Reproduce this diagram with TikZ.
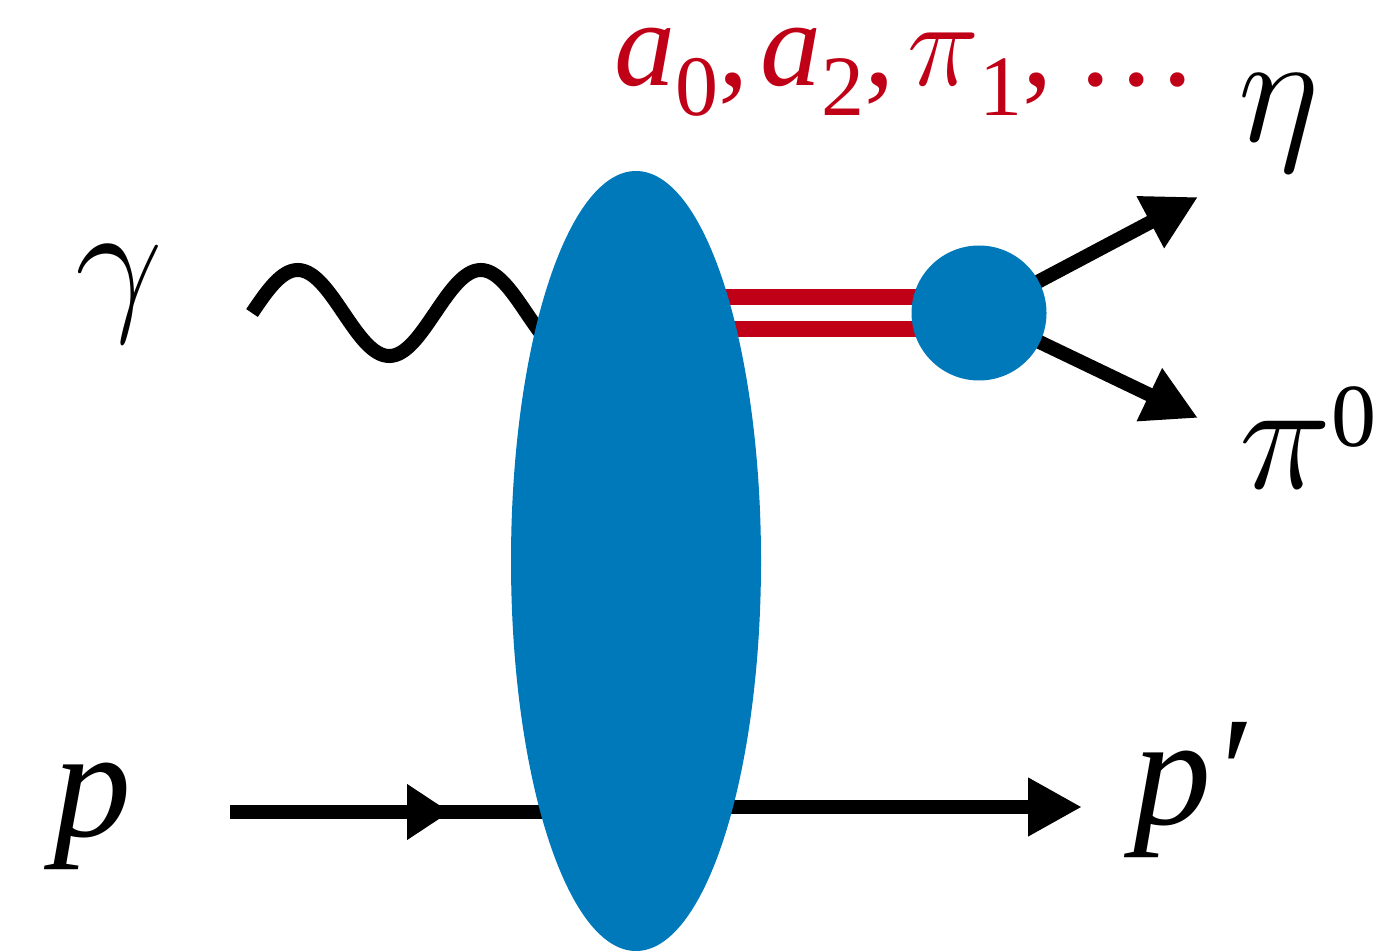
\RequirePackage{fix-cm}
\documentclass[tikz,border=0pt]{standalone}
\usepackage{fontspec}
\setmainfont{Liberation Serif}
\usepackage{xcolor}
\usetikzlibrary{shapes.geometric, positioning, arrows.meta, backgrounds}
\definecolor{blobblue}{RGB}{0,121,186}
\definecolor{mesonred}{RGB}{192,0,22}
\newcommand{\lowsub}[1]{\raisebox{-0.24em}{\fontsize{43}{43}\selectfont\upshape #1}}
\newcommand{\highsup}[1]{\raisebox{21pt}{\fontsize{45}{45}\selectfont\upshape #1}}

\begin{document}
\begin{tikzpicture}[
    x=0.5pt, y=-0.5pt,
    blob/.style={ellipse, fill=blobblue, inner sep=0pt, minimum width=125pt, minimum height=390pt},
    vertex/.style={circle, fill=blobblue, inner sep=0pt, minimum size=67.5pt},
    lbl/.style={inner sep=0pt, anchor=base, font=\fontsize{78}{78}\selectfont\itshape},
    leg/.style={line width=7pt},
    meson/.style={draw=mesonred, line width=8pt},
    midtip/.style={leg, -{Triangle[length=21.5pt, width=26.5pt]}},
    endtip/.style={leg, -{Triangle[length=27pt, width=27.5pt]}}
]
    \useasboundingbox (0,0) rectangle (1384,951);
    % blobs
    \node[blob] (amp) at (636,561) {};
    \node[vertex] (dec) at (979,313) {};

    % particle labels
    \node[lbl] (gam) at (119,313) {$\gamma$};
    \node[lbl] (pin) at (92,836) {p};
    \node[lbl] (pout) at (1190,824) {p′};
    \node[lbl] (eta) at (1279,142) {$\eta$};
    \node[lbl] (pizero) at (1308,488) {$\pi$\highsup{0}};
    \node[inner sep=0pt, anchor=base west, text=mesonred,
        font=\fontsize{61}{61}\selectfont] (states) at (614,86)
        {{\itshape a}\lowsub{0},\hspace{6pt}{\itshape a}\lowsub{2},\hspace{6pt}$\pi$\lowsub{1},\hspace{14pt}.\hspace{5pt}.\hspace{5pt}.};

    % end points
    \coordinate (gstart) at (252,313);
    \coordinate (pstart) at (230,812);
    \coordinate (pmid) at (450,812);
    \coordinate (pend) at (1082,807);
    \coordinate (etaend) at (1198,197);
    \coordinate (piend) at (1198,418);
    \coordinate (mhi) at ([yshift=8pt]dec.center);
    \coordinate (mlo) at ([yshift=-8pt]dec.center);

    % lines behind the blobs
    \begin{scope}[on background layer]
    \draw[leg] (gstart) sin ++(45.75,-43) cos ++(45.75,43) sin ++(45.75,43) cos ++(45.75,-43)
        sin ++(45.75,-43) cos ++(45.75,43) sin ++(45.75,43);
    \draw[leg] (pstart) -- (amp.center |- pstart);
    \draw[midtip] (pstart) -- (pmid);
    \draw[endtip] (amp.center |- pend) -- (pend);
    \draw[meson] (mhi -| amp.center) -- (mhi);
    \draw[meson] (mlo -| amp.center) -- (mlo);
    \draw[endtip] (dec.center) -- (etaend);
    \draw[endtip] (dec.center) -- (piend);
    \end{scope}
\end{tikzpicture}
\end{document}
